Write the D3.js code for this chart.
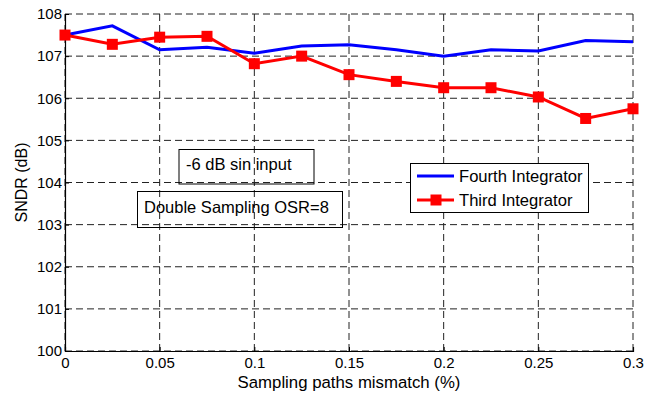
<!DOCTYPE html>
<html><head>
<meta charset="utf-8">
<script src="https://d3js.org/d3.v7.min.js"></script>
<style>
  body { margin: 0; background: #fff; }
  text { font-family: Arial, "Liberation Sans", sans-serif; }
</style>
</head>
<body>
<svg id="chart" width="656" height="393"></svg>
<script>
// data
const mismatch = [0, 0.025, 0.05, 0.075, 0.1, 0.125, 0.15, 0.175, 0.2, 0.225, 0.25, 0.275, 0.3];
const fourthSNDR = [107.5, 107.72, 107.15, 107.21, 107.07, 107.24, 107.27, 107.15, 107.0, 107.15, 107.12, 107.37, 107.34];
const thirdSNDR = [107.5, 107.28, 107.45, 107.47, 106.82, 107.0, 106.56, 106.4, 106.25, 106.25, 106.03, 105.52, 105.75];
const xTicks = [0, 0.05, 0.1, 0.15, 0.2, 0.25, 0.3];
const yTicks = [100, 101, 102, 103, 104, 105, 106, 107, 108];
const seriesNames = ["Fourth Integrator", "Third Integrator"];

let svg = d3.select("svg#chart");
const margins = {top: 14, right: 23, bottom: 42, left: 65};
const chartWidth = 656 - margins.left - margins.right;
const chartHeight = 393 - margins.top - margins.bottom;

let xScale = d3.scaleLinear().domain([0, 0.3]).range([margins.left, margins.left + chartWidth]);
let yScale = d3.scaleLinear().domain([100, 108]).range([margins.top + chartHeight, margins.top]);

// grid
xTicks.forEach(t => {
  svg.append("line")
     .attr("x1", xScale(t)).attr("x2", xScale(t))
     .attr("y1", yScale(100)).attr("y2", yScale(108))
     .style("stroke", "#222").style("stroke-width", 1)
     .style("stroke-dasharray", "7,4");
});
yTicks.forEach(t => {
  svg.append("line")
     .attr("x1", xScale(0)).attr("x2", xScale(0.3))
     .attr("y1", yScale(t)).attr("y2", yScale(t))
     .style("stroke", "#222").style("stroke-width", 1)
     .style("stroke-dasharray", "7,4");
});

// left and bottom axes
let xAxis = d3.axisBottom(xScale).tickValues(xTicks).tickFormat(d => d3.format("~g")(d)).tickSize(-4).tickPadding(7);
let yAxis = d3.axisLeft(yScale).tickValues(yTicks).tickSize(-4).tickPadding(3);

let gx = svg.append("g").attr("transform", `translate(0,${yScale(100)})`).call(xAxis);
let gy = svg.append("g").attr("transform", `translate(${xScale(0)},0)`).call(yAxis);
[gx, gy].forEach(g => {
  g.select(".domain").style("stroke", "#000").style("stroke-width", 1.2);
  g.selectAll(".tick line").style("stroke", "#000");
  g.selectAll(".tick text").style("font-size", "15px").style("fill", "#000")
   .style("font-family", "Arial, 'Liberation Sans', sans-serif");
});
gx.selectAll(".tick text").attr("dy", null).attr("y", 17);

// axis titles
svg.append("text")
   .attr("x", xScale(0.15)).attr("y", 388)
   .attr("text-anchor", "middle").style("font-size", "16.8px")
   .text("Sampling paths mismatch (%)");
svg.append("text")
   .attr("transform", `translate(27,${yScale(104)}) rotate(-90)`)
   .attr("text-anchor", "middle").style("font-size", "16px")
   .text("SNDR (dB)");

// lines
let line = d3.line().x((d, i) => xScale(mismatch[i])).y(d => yScale(d));

svg.append("path").datum(fourthSNDR)
   .attr("d", line).style("fill", "none")
   .style("stroke", "#0000ff").style("stroke-width", 3);

svg.append("path").datum(thirdSNDR)
   .attr("d", line).style("fill", "none")
   .style("stroke", "#ff0000").style("stroke-width", 3);

thirdSNDR.forEach((d, i) => {
  svg.append("rect")
     .attr("x", xScale(mismatch[i]) - 5.5).attr("y", yScale(d) - 5.5)
     .attr("width", 11).attr("height", 11)
     .style("fill", "#ff0000");
});

// annotation boxes
svg.append("rect").attr("x", 179).attr("y", 149.5).attr("width", 135).attr("height", 34.5)
   .style("fill", "none").style("stroke", "#000").style("stroke-width", 1);
svg.append("text").attr("x", 186).attr("y", 170).style("font-size", "16.5px").text("-6 dB sin input");

svg.append("rect").attr("x", 137.5).attr("y", 191.5).attr("width", 205).attr("height", 36)
   .style("fill", "none").style("stroke", "#000").style("stroke-width", 1);
svg.append("text").attr("x", 144).attr("y", 212.5).style("font-size", "16.5px").text("Double Sampling OSR=8");

// legend
let legend = svg.append("g");
legend.append("rect").attr("x", 410.5).attr("y", 163.5).attr("width", 178).attr("height", 49)
   .style("fill", "#fff").style("stroke", "#000").style("stroke-width", 1);
const legendColors = ["#0000ff", "#ff0000"];
seriesNames.forEach((name, i) => {
  let y = 176 + i * 24;
  legend.append("line").attr("x1", 417).attr("x2", 454).attr("y1", y).attr("y2", y)
     .style("stroke", legendColors[i]).style("stroke-width", 3);
  if (i === 1) {
    legend.append("rect").attr("x", 430.5).attr("y", y - 5.5).attr("width", 11).attr("height", 11)
       .style("fill", "#ff0000");
  }
  legend.append("text").attr("x", 459).attr("y", y + 6).style("font-size", "16.6px").text(name);
});
</script>
</body>
</html>
